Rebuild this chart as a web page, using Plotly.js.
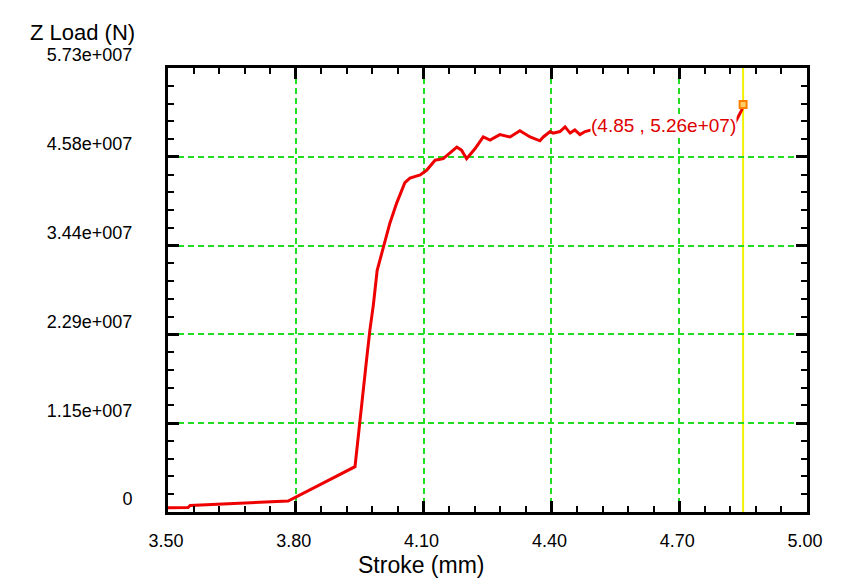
<!DOCTYPE html>
<html>
<head>
<meta charset="utf-8">
<script src="https://cdn.plot.ly/plotly-3.0.1.min.js"></script>
<style>html,body{margin:0;padding:0;background:#fff;}#chart{width:857px;height:588px;}</style>
</head>
<body>
<div id="chart"></div>
<script>
// Stroke (mm)
var stroke = [3.500, 3.547, 3.552, 3.735, 3.782, 3.939, 3.947, 3.955, 3.966, 3.974, 3.982, 3.991,
  4.005, 4.021, 4.037, 4.056, 4.068, 4.092, 4.107, 4.127, 4.146, 4.166, 4.178, 4.189, 4.201,
  4.221, 4.240, 4.256, 4.279, 4.303, 4.326, 4.350, 4.373, 4.381, 4.397, 4.404, 4.420, 4.432,
  4.444, 4.455, 4.467, 4.479, 4.514, 4.561, 4.608, 4.655, 4.702, 4.749, 4.796, 4.831, 4.847, 4.850];
// Z Load (N)
var zload = [0.055e7, 0.058e7, 0.084e7, 0.129e7, 0.142e7, 0.585e7, 1.02e7, 1.41e7, 1.96e7, 2.35e7, 2.67e7, 3.12e7,
  3.42e7, 3.73e7, 3.99e7, 4.25e7, 4.31e7, 4.35e7, 4.41e7, 4.54e7, 4.56e7, 4.65e7, 4.71e7, 4.67e7, 4.56e7,
  4.69e7, 4.84e7, 4.80e7, 4.87e7, 4.84e7, 4.92e7, 4.84e7, 4.79e7, 4.84e7, 4.91e7, 4.89e7, 4.91e7, 4.97e7,
  4.89e7, 4.93e7, 4.87e7, 4.91e7, 4.96e7, 4.98e7, 5.01e7, 4.97e7, 5.02e7, 5.00e7, 5.03e7, 5.02e7, 5.19e7, 5.26e7];

var cursorX = [4.85];
var cursorY = [5.26e7];
var cursorLabel = ["(4.85 , 5.26e+07)"];

var xTickVals = [3.50, 3.80, 4.10, 4.40, 4.70, 5.00];
var xTickText = ["3.50", "3.80", "4.10", "4.40", "4.70", "5.00"];
var yTickVals = [0, 1.146e7, 2.292e7, 3.438e7, 4.584e7, 5.73e7];
var yTickText = ["0", "1.15e+007", "2.29e+007", "3.44e+007", "4.58e+007", "5.73e+007"];

var font = "Liberation Sans, Arial, sans-serif";
var gridColor = "#22dd22";

var traces = [
  {
    x: stroke, y: zload, type: "scatter", mode: "lines",
    line: {color: "#ee0000", width: 3}, hoverinfo: "skip", showlegend: false
  },
  {
    x: cursorX, y: cursorY, type: "scatter", mode: "markers",
    marker: {symbol: "square", size: 7, color: "#ffcc66", line: {color: "#ff8000", width: 2}},
    hoverinfo: "skip", showlegend: false
  }
];

var axisCommon = {
  showline: true, linecolor: "#000", linewidth: 3, mirror: "ticks",
  ticks: "inside", ticklen: 11, tickwidth: 3, tickcolor: "#000",
  showgrid: true, gridcolor: gridColor, gridwidth: 2, griddash: "6px,4px",
  zeroline: false, tickfont: {family: font, size: 18, color: "#000"},
  tickmode: "array"
};

var layout = {
  width: 857, height: 588,
  margin: {l: 168, r: 50, t: 68, b: 76},
  paper_bgcolor: "#fff", plot_bgcolor: "#fff",
  showlegend: false,
  xaxis: Object.assign({}, axisCommon, {
    range: [3.5, 5.0], tickvals: xTickVals, ticktext: xTickText,
    ticklabelstandoff: 10, ticklabelshift: -2,
    minor: {tickmode: "linear", tick0: 3.5, dtick: 0.06, ticks: "inside", ticklen: 6, tickwidth: 2, tickcolor: "#000", showgrid: false}
  }),
  yaxis: Object.assign({}, axisCommon, {
    range: [0, 5.73e7], tickvals: yTickVals, ticktext: yTickText,
    ticklabelstandoff: 29, ticklabelshift: -13,
    minor: {tickmode: "linear", tick0: 0, dtick: 0.2292e7, ticks: "inside", ticklen: 6, tickwidth: 2, tickcolor: "#000", showgrid: false}
  }),
  shapes: [{
    type: "line", xref: "x", yref: "paper", x0: cursorX[0], x1: cursorX[0], y0: 0, y1: 1,
    line: {color: "#f2f200", width: 2}, layer: "below"
  }],
  annotations: [
    {
      xref: "x", yref: "y", x: cursorX[0], y: cursorY[0], text: cursorLabel[0],
      showarrow: false, xanchor: "right", yanchor: "middle", xshift: -6, yshift: -21,
      bgcolor: "#fff", borderpad: 0,
      font: {family: font, size: 19, color: "#dd0000"}
    },
    {
      xref: "paper", yref: "paper", x: -0.219, y: 1.0, yshift: 36, text: "Z Load (N)",
      showarrow: false, xanchor: "left", yanchor: "middle",
      font: {family: font, size: 22, color: "#000"}
    },
    {
      xref: "paper", yref: "paper", x: 0.396, y: 0, yshift: -53, text: "Stroke (mm)",
      showarrow: false, xanchor: "center", yanchor: "middle",
      font: {family: font, size: 23, color: "#000"}
    }
  ]
};

Plotly.newPlot("chart", traces, layout, {staticPlot: true, displayModeBar: false});
</script>
</body>
</html>
